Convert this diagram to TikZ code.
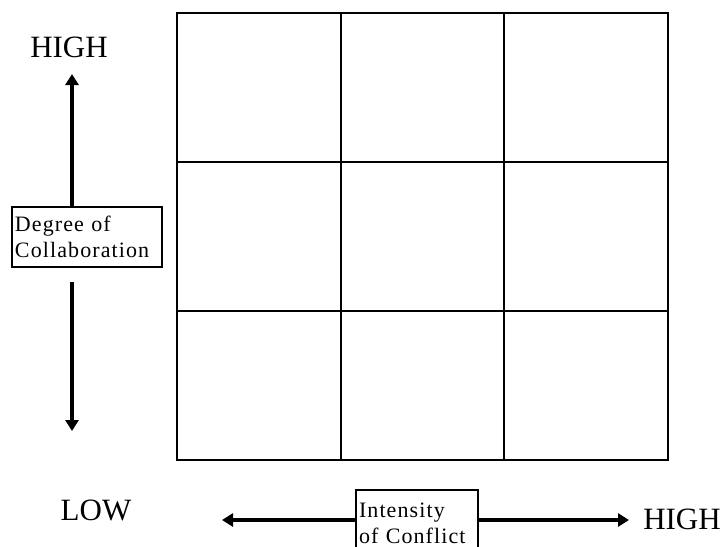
\documentclass[tikz,border=0pt]{standalone}
\usepackage{fontspec}
\setmainfont{Liberation Serif}
\usetikzlibrary{arrows.meta}

\begin{document}
\begin{tikzpicture}[x=1pt,y=-1pt,
  axisbox/.style={draw, line width=1.2pt, align=left, inner xsep=3pt, inner ysep=0pt,
    font=\fontsize{22}{26}\selectfont\addfontfeature{LetterSpace=5}},
  endlabel/.style={font=\fontsize{31}{31}\selectfont, inner sep=0pt},
  axisarrow/.style={line width=4pt, -{Triangle[length=11pt,width=13pt]}},
  gridline/.style={line width=1.3pt}]
\useasboundingbox (0,0) rectangle (724,547);
% the 3 by 3 grid
\draw[gridline] (177,13) rectangle (668,460);
\draw[gridline] (177,162) -- (668,162);
\draw[gridline] (177,311) -- (668,311);
\draw[gridline] (504,13) -- (504,460);
\draw[line width=2.6pt] (341,13) -- (341,460);
% vertical axis
\node[endlabel] (hightop) at (69,47) {HIGH};
\node[axisbox, text width=144pt, minimum height=60pt] (degree) at (87,237) {Degree of\\Collaboration};
\coordinate (uptip) at (72,74);
\coordinate (upfoot) at (72,207);
\coordinate (downfoot) at (72,282);
\coordinate (downtip) at (72,431);
\draw [axisarrow] (upfoot) -- (uptip);
\draw [axisarrow] (downfoot) -- (downtip);
% horizontal axis
\node[endlabel] (low) at (96,510) {LOW};
\node[axisbox, text width=116pt, minimum height=66pt] (intensity) at (417,523) {Intensity\\of Conflict};
\node[endlabel] (highright) at (682,519) {HIGH};
\coordinate (lefttip) at (222,520);
\coordinate (righttip) at (629,520);
\draw [axisarrow] (intensity.west |- lefttip) -- (lefttip);
\draw [axisarrow] (intensity.east |- righttip) -- (righttip);
\end{tikzpicture}
\end{document}
